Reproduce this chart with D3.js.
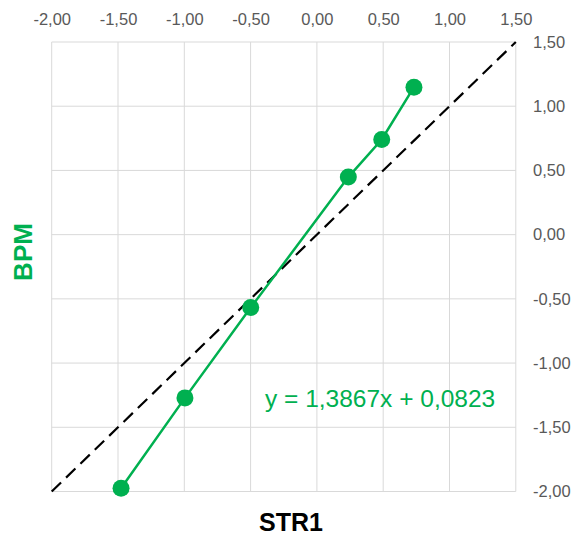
<!DOCTYPE html>
<html>
<head>
<meta charset="utf-8">
<script src="https://cdn.jsdelivr.net/npm/d3@7/dist/d3.min.js"></script>
<style>
  html, body { margin: 0; padding: 0; background: #fff; }
  svg { display: block; }
</style>
</head>
<body>
<svg id="chart" width="571" height="541"></svg>
<script>
// Data
const strValues = [-1.477, -0.995, -0.499, 0.237, 0.489, 0.732];
const bpmValues = [-1.975, -1.271, -0.568, 0.448, 0.741, 1.148];
const xTickValues = [-2.0, -1.5, -1.0, -0.5, 0.0, 0.5, 1.0, 1.5];
const yTickValues = [-2.0, -1.5, -1.0, -0.5, 0.0, 0.5, 1.0, 1.5];
const identityLine = [-2.0, 1.5];
const equationLabel = "y = 1,3867x + 0,0823";
const xTitle = "STR1";
const yTitle = "BPM";

(function () {
const green = "#00B050";
const svg = d3.select("#chart");
const pLeft = 51.7, pRight = 515.8, pTop = 42, pBottom = 491.5;

const x = d3.scaleLinear().domain([-2, 1.5]).range([pLeft, pRight]);
const y = d3.scaleLinear().domain([-2, 1.5]).range([pBottom, pTop]);
const fmt = v => d3.format(".2f")(v).replace(".", ",").replace("−", "-");

// Gridlines
const grid = svg.append("g");
grid.selectAll("line.vx").data(xTickValues).join("line")
  .attr("x1", d => x(d)).attr("x2", d => x(d))
  .attr("y1", pTop).attr("y2", pBottom)
  .attr("stroke", "#d9d9d9").attr("stroke-width", 1);
grid.selectAll("line.hy").data(yTickValues).join("line")
  .attr("x1", pLeft).attr("x2", pRight)
  .attr("y1", d => y(d)).attr("y2", d => y(d))
  .attr("stroke", "#d9d9d9").attr("stroke-width", 1);

// Top axis labels
const xAxis = d3.axisTop(x).tickValues(xTickValues).tickFormat(fmt).tickSize(0);
const gx = svg.append("g").attr("transform", "translate(0,28)").call(xAxis);
gx.select(".domain").remove();
gx.selectAll("text")
  .attr("fill", "#595959")
  .style("font-family", "'Liberation Sans', Arial, sans-serif")
  .style("font-size", "16.5px");

// Right axis labels
const yAxis = d3.axisRight(y).tickValues(yTickValues).tickFormat(fmt).tickSize(0);
const gy = svg.append("g").attr("transform", "translate(533,0)").call(yAxis);
gy.select(".domain").remove();
gy.selectAll("text")
  .attr("x", 0)
  .attr("fill", "#595959")
  .style("font-family", "'Liberation Sans', Arial, sans-serif")
  .style("font-size", "16.5px");

// Identity dashed line
svg.append("line")
  .attr("x1", x(identityLine[0])).attr("y1", y(identityLine[0]))
  .attr("x2", x(identityLine[1])).attr("y2", y(identityLine[1]))
  .attr("stroke", "#000").attr("stroke-width", 2.2)
  .attr("stroke-dasharray", "13,7");

// Series line
const pts = strValues.map((v, i) => [v, bpmValues[i]]);
svg.append("path")
  .datum(pts)
  .attr("d", d3.line().x(d => x(d[0])).y(d => y(d[1])))
  .attr("fill", "none").attr("stroke", green).attr("stroke-width", 2.5);

svg.selectAll("circle.pt").data(pts).join("circle")
  .attr("cx", d => x(d[0])).attr("cy", d => y(d[1]))
  .attr("r", 8.5).attr("fill", green);

// Equation
svg.append("text")
  .attr("x", 265).attr("y", 407)
  .attr("fill", green)
  .style("font-family", "'Liberation Sans', Arial, sans-serif")
  .style("font-size", "24.5px")
  .text(equationLabel);

// Axis titles
svg.append("text")
  .attr("x", 291).attr("y", 531)
  .attr("text-anchor", "middle")
  .attr("fill", "#000")
  .style("font-family", "'Liberation Sans', Arial, sans-serif")
  .style("font-size", "25px").style("font-weight", "bold")
  .text(xTitle);

svg.append("text")
  .attr("transform", "translate(32,252) rotate(-90)")
  .attr("text-anchor", "middle")
  .attr("fill", green)
  .style("font-family", "'Liberation Sans', Arial, sans-serif")
  .style("font-size", "26px").style("font-weight", "bold")
  .text(yTitle);
})();
</script>
</body>
</html>
